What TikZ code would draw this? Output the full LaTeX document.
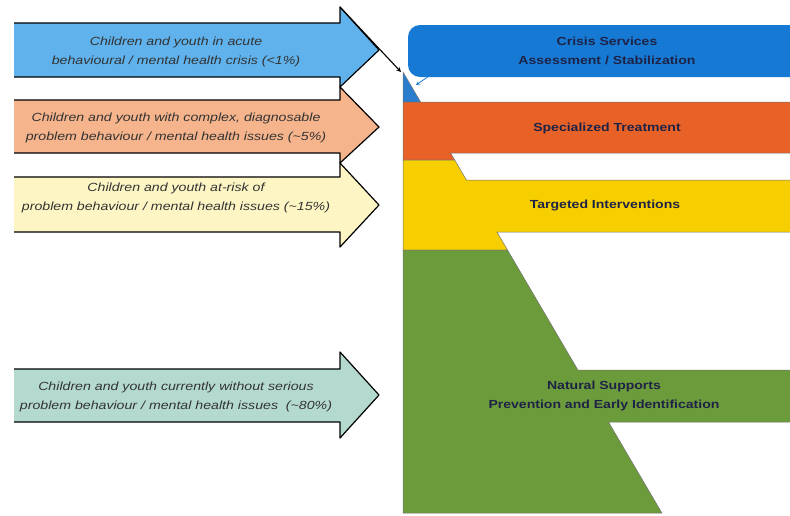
\documentclass[tikz,border=0pt]{standalone}
\usepackage{fontspec}
\setmainfont{Liberation Sans}[FakeStretch=1.2]
\usetikzlibrary{calc, shapes, arrows}
\usepackage{xcolor}

\definecolor{acuteblue}{RGB}{95,178,235}
\definecolor{complexpeach}{RGB}{245,180,140}
\definecolor{riskyellow}{RGB}{253,246,196}
\definecolor{currentteal}{RGB}{180,218,208}
\definecolor{crisisblue}{RGB}{22,122,212}
\definecolor{tipblue}{RGB}{40,125,205}
\definecolor{treatorange}{RGB}{232,98,40}
\definecolor{targetyellow}{RGB}{247,207,0}
\definecolor{naturalgreen}{RGB}{108,155,60}
\definecolor{labelnavy}{RGB}{30,35,70}

\begin{document}
\begin{tikzpicture}[x=1pt,y=-1pt]
			\tikzset{grouptext/.style={font=\itshape\fontsize{11.8}{19}\selectfont, text=black!80, align=center}}
			\tikzset{tierlabel/.style={font=\bfseries\fontsize{11.7}{18.5}\selectfont, text=labelnavy, align=center}}
			\tikzset{tieredge/.style={draw=black!55, line width=0.5pt}}
			\tikzset{crisisbox/.style={tierlabel, fill=crisisblue, rounded corners=12pt, minimum width=398pt, minimum height=52pt, inner sep=0pt}}
			\useasboundingbox (0,0) rectangle (790,515);
			% arrows: body top / body bottom / barb top / tip / barb bottom
			\foreach \bt/\bb/\ht/\tip/\hb/\col in {23/77/7/50/87/acuteblue, 100/153/87/127/163/complexpeach, 177/232/163/205/247/riskyellow, 369/422/352/395/438/currentteal}{
				\fill[\col] (14,\bt) -- (340,\bt) -- (340,\ht) -- (379,\tip) -- (340,\hb) -- (340,\bb) -- (14,\bb) -- cycle;
				\draw[line width=1.2pt, line join=round] (14,\bb) -- (340,\bb) -- (340,\hb) -- (379,\tip) -- (340,\ht) -- (340,\bt) -- (14,\bt);
			}
			\node[grouptext] (acute) at (176,52) {Children and youth in acute\\behavioural / mental health crisis (<1\%)};
			\node[grouptext] (complex) at (176,128) {Children and youth with complex, diagnosable\\problem behaviour / mental health issues (\textasciitilde5\%)};
			\node[grouptext] (risk) at (176,198) {Children and youth at-risk of\\problem behaviour / mental health issues (\textasciitilde15\%)};
			\node[grouptext] (current) at (176,397) {Children and youth currently without serious\\problem behaviour / mental health issues\ \ (\textasciitilde80\%)};
			% pyramid with its bands
			\filldraw[tieredge, fill=tipblue] (403,72) -- (420.6,102) -- (403,102) -- cycle;
			\filldraw[tieredge, fill=treatorange] (403,102) -- (795,102) -- (795,153) -- (450.5,153) -- (454.7,160) -- (403,160) -- cycle;
			\filldraw[tieredge, fill=targetyellow] (403,160) -- (454.7,160) -- (466.4,180) -- (795,180) -- (795,232) -- (496.9,232) -- (507.5,250) -- (403,250) -- cycle;
			\filldraw[tieredge, fill=naturalgreen] (403,250) -- (507.5,250) -- (577.9,370) -- (795,370) -- (795,422) -- (608.5,422) -- (661.9,513) -- (403,513) -- cycle;
			\node[crisisbox] (crisis) at (607,51) {Crisis Services\\Assessment / Stabilization};
			\node[tierlabel] (treatment) at (607,128) {Specialized Treatment};
			\node[tierlabel] (targeted) at (605,205) {Targeted Interventions};
			\node[tierlabel] (natural) at (604,396) {Natural Supports\\Prevention and Early Identification};
			% pointers to the top of the pyramid
			\coordinate (acute-barb) at (340,7);
			\coordinate (apex) at (401,72);
			\coordinate (crisis-foot) at (429,76);
			\coordinate (tip-mark) at (416,85);
			\draw[-stealth, line width=1.1pt] (acute-barb) -- (apex);
			\draw[-stealth, crisisblue, line width=0.8pt] (crisis-foot) -- (tip-mark);
\end{tikzpicture}
\end{document}
